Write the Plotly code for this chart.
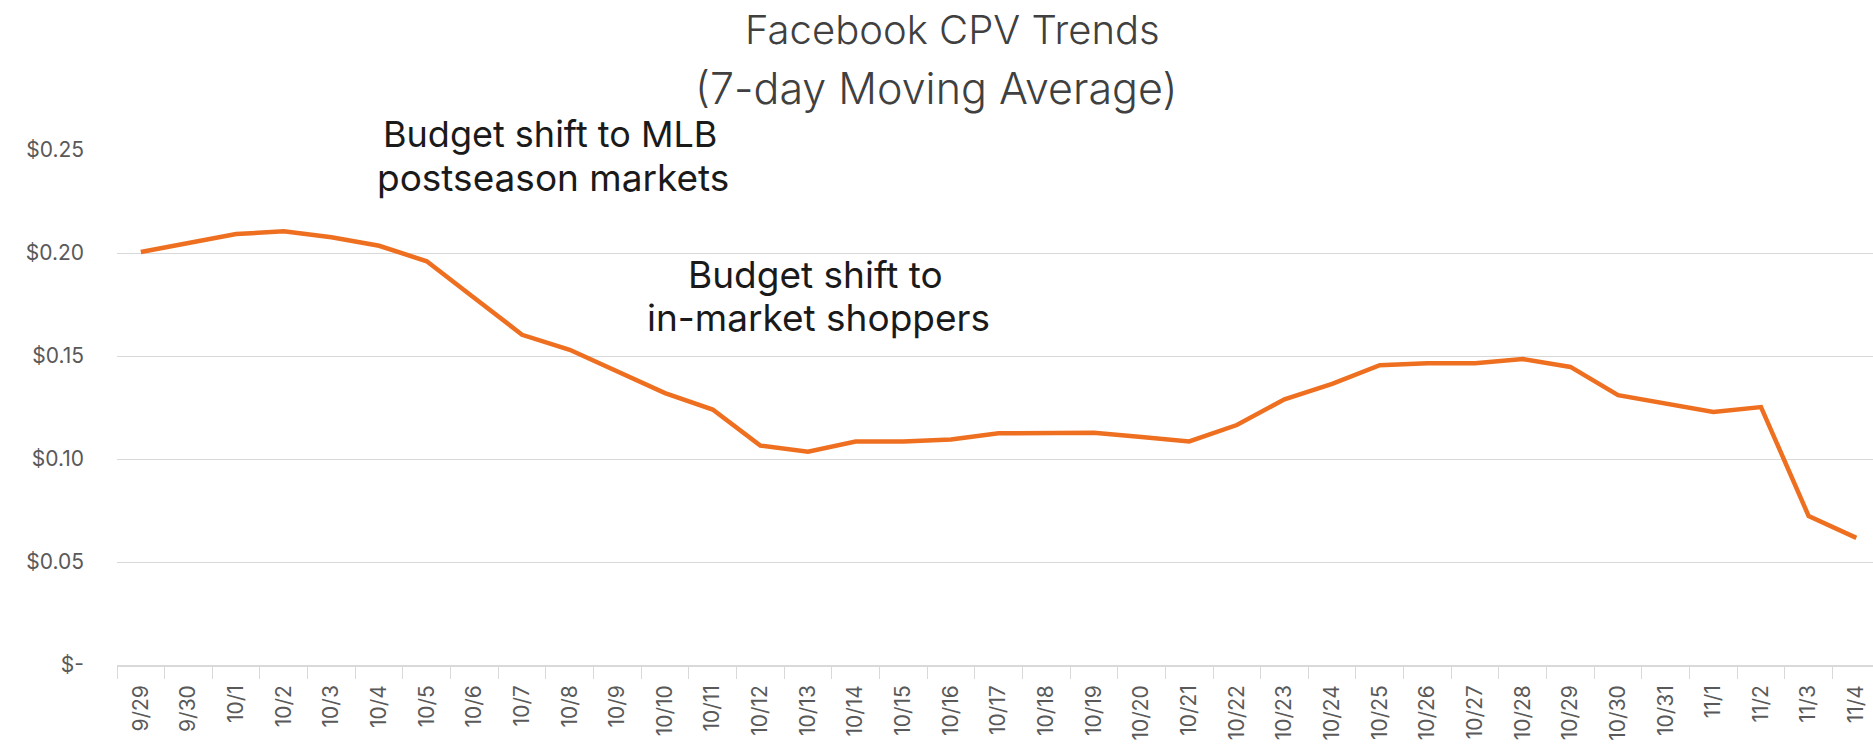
import plotly.graph_objects as go

dates = ["9/29", "9/30", "10/1", "10/2", "10/3", "10/4", "10/5", "10/6", "10/7", "10/8",
         "10/9", "10/10", "10/11", "10/12", "10/13", "10/14", "10/15", "10/16", "10/17",
         "10/18", "10/19", "10/20", "10/21", "10/22", "10/23", "10/24", "10/25", "10/26",
         "10/27", "10/28", "10/29", "10/30", "10/31", "11/1", "11/2", "11/3", "11/4"]
cpv = [0.2005, 0.2050, 0.2092, 0.2105, 0.2076, 0.2035, 0.1960, 0.1782, 0.1603, 0.1530,
       0.1425, 0.1320, 0.1240, 0.1065, 0.1035, 0.1085, 0.1085, 0.1095, 0.1125,
       0.1127, 0.1127, 0.1107, 0.1085, 0.1165, 0.1290, 0.1365, 0.1455, 0.1465,
       0.1465, 0.1485, 0.1447, 0.1310, 0.1270, 0.1228, 0.1252, 0.0723, 0.0617]
y_ticks = [0, 0.05, 0.10, 0.15, 0.20, 0.25]
y_labels = ["$-", "$0.05", "$0.10", "$0.15", "$0.20", "$0.25"]

title_lines = ["Facebook CPV Trends", "(7-day Moving Average)"]
note1_lines = ["Budget shift to MLB", "postseason markets"]
note2_lines = ["Budget shift to", "in-market shoppers"]

W, H = 1873, 745
L, R, T, B = 117, 0, 150, 80
PW, PH = W - L - R, H - T - B

def px(x):
    return (x - L) / PW

def py(y):
    return (H - B - y) / PH

FONT = "Inter"
fig = go.Figure()
fig.add_trace(go.Scatter(x=dates, y=cpv, mode="lines",
                         line=dict(color="#EE6F20", width=4.5), showlegend=False))

annots = []
for text, cx, cy, size, color, weight in [
    (title_lines[0], 952, 29, 40, "#404040", 300),
    (title_lines[1], 936, 88, 43, "#404040", 300),
    (note1_lines[0], 550, 134, 36, "#1a1a1a", 400),
    (note1_lines[1], 553, 177, 37, "#1a1a1a", 400),
    (note2_lines[0], 815, 274, 37, "#1a1a1a", 400),
    (note2_lines[1], 818, 317, 37, "#1a1a1a", 400),
]:
    annots.append(dict(text=text, x=px(cx), y=py(cy), xref="paper", yref="paper",
                       xanchor="center", yanchor="middle", showarrow=False,
                       font=dict(family=FONT, size=size, color=color, weight=weight)))

fig.update_layout(
    width=W, height=H,
    margin=dict(l=L, r=R, t=T, b=B, autoexpand=False),
    paper_bgcolor="white", plot_bgcolor="white",
    annotations=annots,
    font=dict(family=FONT, color="#595959"),
    xaxis=dict(type="category", range=[-0.5, 36.35], showgrid=False,
               showline=True, linecolor="#d9d9d9", linewidth=1.5,
               ticks="outside", tickson="boundaries", ticklen=12, tickcolor="#d9d9d9",
               tickangle=-90, tickfont=dict(size=21, color="#595959"),
               ticklabelstandoff=10, automargin=False),
    yaxis=dict(range=[0, 0.25], tickvals=y_ticks, ticktext=y_labels,
               showgrid=True, gridcolor="#d9d9d9", gridwidth=1, zeroline=False,
               tickfont=dict(size=21, color="#595959"),
               ticklabelstandoff=32, automargin=False),
)
fig.write_html("out.html", config={"displayModeBar": False},
               post_script="document.body.style.margin='0';document.body.style.overflow='hidden';")
